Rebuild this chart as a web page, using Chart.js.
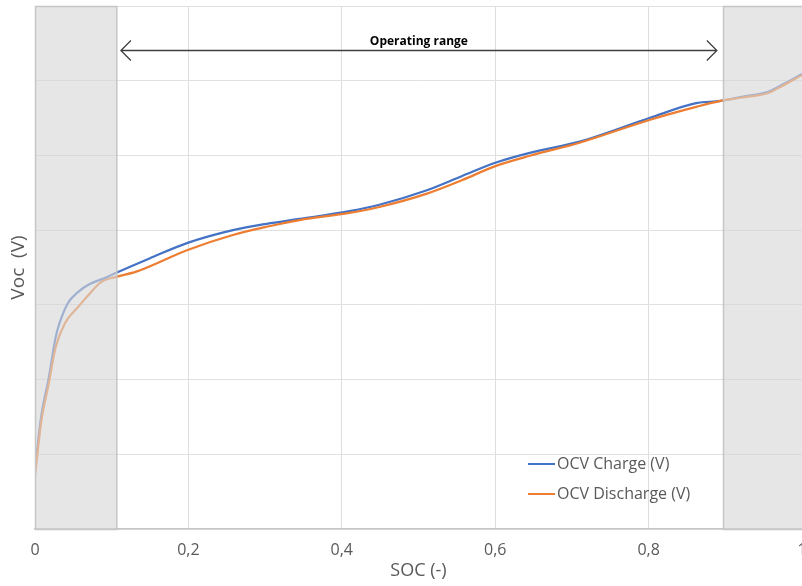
<!DOCTYPE html>
<html>
<head>
<meta charset="utf-8">
<script src="https://cdn.jsdelivr.net/npm/chart.js@4/dist/chart.umd.min.js"></script>
<style>
  body { margin: 0; background: #fff; overflow: hidden; }
  #wrap { width: 802px; height: 586px; position: relative; }
</style>
</head>
<body>
<div id="wrap"><canvas id="myChart"></canvas></div>
<script>
// values
var socCharge = [0, 0.008, 0.018, 0.027, 0.032, 0.043, 0.056, 0.069, 0.091, 0.106, 0.15, 0.199, 0.258, 0.302, 0.345, 0.41, 0.449, 0.51, 0.557, 0.601, 0.645, 0.71, 0.801, 0.862, 0.894, 0.922, 0.957, 0.974, 1.0];
var vCharge = [2.963, 3.100, 3.205, 3.314, 3.351, 3.405, 3.434, 3.453, 3.472, 3.486, 3.525, 3.566, 3.600, 3.617, 3.630, 3.651, 3.668, 3.706, 3.745, 3.781, 3.807, 3.837, 3.900, 3.940, 3.946, 3.957, 3.971, 3.989, 4.018];

var socDischarge = [0, 0.008, 0.018, 0.027, 0.039, 0.056, 0.073, 0.086, 0.106, 0.132, 0.199, 0.258, 0.302, 0.345, 0.41, 0.449, 0.51, 0.557, 0.601, 0.645, 0.71, 0.801, 0.862, 0.894, 0.922, 0.957, 0.974, 1.0];
var vDischarge = [2.942, 3.085, 3.190, 3.287, 3.351, 3.394, 3.434, 3.461, 3.475, 3.489, 3.547, 3.587, 3.609, 3.627, 3.646, 3.662, 3.697, 3.734, 3.772, 3.799, 3.834, 3.895, 3.930, 3.946, 3.955, 3.968, 3.986, 4.015];

var xTickLabels = ["0", "0,2", "0,4", "0,6", "0,8", "1"];
var seriesLabels = ["OCV Charge (V)", "OCV Discharge (V)"];

// operating window (SOC) and the arrow above it
var opStart = 0.106, opEnd = 0.897;
var arrowFrom = 0.112, arrowTo = 0.889, arrowV = 4.082;
var opLabel = "Operating range";

function toPoints(xs, ys) {
  var pts = [];
  for (var i = 0; i < xs.length; i++) pts.push({x: xs[i], y: ys[i]});
  return pts;
}

Chart.defaults.font.family = "'Open Sans', sans-serif";
Chart.defaults.color = "#595959";

// grey boxes outside the operating range, arrow, label and legend
var overlay = {
  id: "overlay",
  afterDatasetsDraw: function(chart) {
    var ctx = chart.ctx, a = chart.chartArea;
    var xs = chart.scales.x, ys = chart.scales.y;
    ctx.save();
    var boxes = [[xs.getPixelForValue(0), xs.getPixelForValue(opStart)],
                 [xs.getPixelForValue(opEnd), xs.getPixelForValue(1) + 2]];
    boxes.forEach(function(b) {
      ctx.fillStyle = "rgba(214,214,214,0.62)";
      ctx.fillRect(b[0], a.top, b[1] - b[0], a.bottom - a.top);
      ctx.strokeStyle = "#c6c6c6";
      ctx.lineWidth = 1.5;
      ctx.strokeRect(b[0] + 0.5, a.top + 0.5, b[1] - b[0], a.bottom - a.top);
    });

    // double arrow
    var x1 = xs.getPixelForValue(arrowFrom), x2 = xs.getPixelForValue(arrowTo);
    var y = Math.round(ys.getPixelForValue(arrowV)) + 0.5;
    ctx.strokeStyle = "#404040";
    ctx.lineWidth = 1.3;
    ctx.beginPath();
    ctx.moveTo(x1, y); ctx.lineTo(x2, y);
    ctx.moveTo(x1 + 10, y - 10); ctx.lineTo(x1, y); ctx.lineTo(x1 + 10, y + 10);
    ctx.moveTo(x2 - 10, y - 10); ctx.lineTo(x2, y); ctx.lineTo(x2 - 10, y + 10);
    ctx.stroke();

    ctx.fillStyle = "#000";
    ctx.font = "bold 12px 'Open Sans', sans-serif";
    ctx.textAlign = "center";
    ctx.textBaseline = "alphabetic";
    ctx.fillText(opLabel, (x1 + x2) / 2, y - 6);

    // legend inside the plot
    ctx.font = "16px 'Open Sans', sans-serif";
    ctx.textAlign = "left";
    ctx.textBaseline = "middle";
    chart.data.datasets.forEach(function(ds, i) {
      var ly = 464 + i * 30;
      ctx.strokeStyle = ds.borderColor;
      ctx.lineWidth = 2;
      ctx.beginPath();
      ctx.moveTo(528, ly); ctx.lineTo(555, ly);
      ctx.stroke();
      ctx.fillStyle = "#595959";
      ctx.fillText(ds.label, 557, ly);
    });
    ctx.restore();
  }
};

var ctx = document.getElementById("myChart").getContext("2d");
var mychart = new Chart(ctx, {
  type: "line",
  data: {
    datasets: [{
      label: seriesLabels[0],
      data: toPoints(socCharge, vCharge),
      borderColor: "#4472C4",
      borderWidth: 2.2,
      order: 1
    }, {
      label: seriesLabels[1],
      data: toPoints(socDischarge, vDischarge),
      borderColor: "#ED7D31",
      borderWidth: 2.2,
      order: 0
    }]
  },
  options: {
    responsive: true,
    maintainAspectRatio: false,
    animation: false,
    layout: { padding: { top: 6, right: 0, left: 0, bottom: 0 }, autoPadding: false },
    elements: { point: { radius: 0 }, line: { cubicInterpolationMode: "monotone", fill: false } },
    plugins: { legend: { display: false }, tooltip: { enabled: false } },
    scales: {
      x: {
        type: "linear",
        min: 0, max: 1,
        afterFit: function(scale) {
          scale.height = 57;
          scale.paddingLeft = 0;
          scale.paddingRight = 0;
        },
        grid: { color: "#dedede", drawTicks: false },
        border: { color: "#c6c6c6", width: 1.5 },
        ticks: {
          stepSize: 0.2,
          padding: 12,
          maxRotation: 0,
          font: { size: 16 },
          callback: function(v, i) { return xTickLabels[i]; }
        },
        title: { display: true, text: "SOC (-)", font: { size: 18 }, padding: { top: 0, bottom: 4 } }
      },
      y: {
        min: 2.8, max: 4.2,
        afterFit: function(scale) { scale.width = 35; },
        grid: { color: "#e0e0e0", drawTicks: false },
        border: { display: false },
        ticks: { stepSize: 0.2, display: false },
        title: { display: true, text: "Voc  (V)", font: { size: 19 }, padding: { top: 7, bottom: 0 } }
      }
    }
  },
  plugins: [overlay]
});
</script>
</body>
</html>
